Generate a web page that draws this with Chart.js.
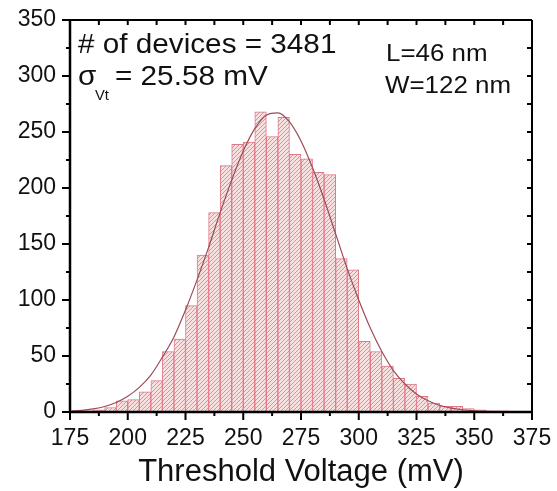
<!DOCTYPE html>
<html>
<head>
<meta charset="utf-8">
<script src="https://cdn.jsdelivr.net/npm/chart.js@4.4.0/dist/chart.umd.min.js"></script>
<style>
  html, body { margin: 0; padding: 0; background: #fff; }
</style>
</head>
<body>
<canvas id="chartVt" width="557" height="491"></canvas>
<script>
// histogram bins (5 mV wide), centre of each bin
const binCenters = [182.5, 187.5, 192.5, 197.5, 202.5, 207.5, 212.5, 217.5, 222.5, 227.5,
    232.5, 237.5, 242.5, 247.5, 252.5, 257.5, 262.5, 267.5, 272.5, 277.5,
    282.5, 287.5, 292.5, 297.5, 302.5, 307.5, 312.5, 317.5, 322.5, 327.5,
    332.5, 337.5, 342.5, 347.5, 352.5, 357.5, 362.5];
const binCounts = [1, 2, 4, 10, 11, 18, 28, 54, 65, 95,
    140, 178, 220, 239, 241, 268, 246, 263, 230, 226,
    214, 212, 137, 127, 63, 54, 41, 30, 25, 14,
    8, 5, 5, 3, 2, 1, 1];

// gaussian fit line
const fitX = [175, 180, 185, 190, 195, 200, 205, 210, 215, 220,
    225, 230, 235, 240, 245, 250, 255, 260, 265, 270,
    275, 280, 285, 290, 295, 300, 305, 310, 315, 320,
    325, 330, 335, 340, 345, 350, 355, 360, 365, 370];
const fitY = [0.8, 1.5, 2.8, 4.9, 8.5, 14, 22, 33, 49, 67,
    91, 118, 147, 178, 207, 233, 253, 265, 267, 259,
    242, 218, 190, 159, 128, 100, 75, 54, 37, 25,
    16, 10, 6, 3.5, 2, 1.1, 0.5, 0.3, 0.1, 0];

const xTicks = [175, 200, 225, 250, 275, 300, 325, 350, 375];
const yTicks = [0, 50, 100, 150, 200, 250, 300, 350];

const FONT = "'Liberation Sans', Arial, sans-serif";

function makeHatch() {
    const c = document.createElement("canvas");
    c.width = 4;
    c.height = 4;
    const g = c.getContext("2d");
    g.fillStyle = "#f6e0e0";
    g.fillRect(0, 0, 4, 4);
    g.strokeStyle = "rgba(140,100,100,0.65)";
    g.lineWidth = 0.8;
    g.beginPath();
    g.moveTo(0, 4); g.lineTo(4, 0);
    g.moveTo(-1, 1); g.lineTo(1, -1);
    g.moveTo(3, 5); g.lineTo(5, 3);
    g.stroke();
    return g.createPattern(c, "repeat");
}

// text drawn a little wider than the font, like the original
function wideText(ctx, str, x, y, size, sx) {
    ctx.save();
    ctx.font = size + "px " + FONT;
    ctx.translate(x, y);
    ctx.scale(sx, 1);
    ctx.fillText(str, 0, 0);
    ctx.restore();
}

// frame, tick marks and the text boxes
const framePlugin = {
    id: "frame",
    afterDraw(chart) {
        const ctx = chart.ctx;
        const a = chart.chartArea;
        const xs = chart.scales.x;
        const ys = chart.scales.y;
        ctx.save();
        ctx.strokeStyle = "#000";
        ctx.lineCap = "butt";

        ctx.lineWidth = 2;
        ctx.beginPath();
        ctx.moveTo(a.left, a.top); ctx.lineTo(a.right, a.top);
        ctx.moveTo(a.right, a.top); ctx.lineTo(a.right, a.bottom);
        ctx.stroke();
        ctx.lineWidth = 2.5;
        ctx.beginPath();
        ctx.moveTo(a.left, a.top - 1); ctx.lineTo(a.left, a.bottom);
        ctx.moveTo(a.left, a.bottom); ctx.lineTo(a.right + 1, a.bottom);
        ctx.stroke();

        ctx.lineWidth = 2;
        for (let v = 175; v <= 375; v += 12.5) {
            const px = xs.getPixelForValue(v);
            const major = (v - 175) % 25 === 0;
            ctx.beginPath();
            ctx.moveTo(px, a.bottom); ctx.lineTo(px, a.bottom + (major ? 8 : 4));
            ctx.moveTo(px, a.top); ctx.lineTo(px, a.top + 5);
            ctx.stroke();
        }
        for (let v = 0; v <= 350; v += 25) {
            const py = ys.getPixelForValue(v);
            const major = v % 50 === 0;
            ctx.beginPath();
            ctx.moveTo(a.left, py); ctx.lineTo(a.left - (major ? 8 : 4), py);
            ctx.moveTo(a.right, py); ctx.lineTo(a.right - 5, py);
            ctx.stroke();
        }

        ctx.fillStyle = "#111";
        ctx.textBaseline = "alphabetic";
        ctx.textAlign = "left";
        wideText(ctx, "# of devices = 3481", 78, 53, 27, 1.1);
        wideText(ctx, "\u03c3", 78, 85, 27, 1.1);
        wideText(ctx, "= 25.58 mV", 115, 85, 27, 1.1);
        wideText(ctx, "Vt", 95, 100, 14, 1.05);
        wideText(ctx, "L=46 nm", 386, 61, 24, 1.08);
        wideText(ctx, "W=122 nm", 385, 93, 24, 1.08);
        ctx.restore();
    }
};

new Chart(document.getElementById("chartVt"), {
    type: "bar",
    data: {
        datasets: [
            {
                type: "line",
                data: fitX.map((x, i) => ({ x: x, y: fitY[i] })),
                borderColor: "#a04a58",
                borderWidth: 1.2,
                pointRadius: 0,
                fill: false,
                cubicInterpolationMode: "monotone",
                order: 0,
            },
            {
                type: "bar",
                data: binCenters.map((x, i) => ({ x: x, y: binCounts[i] })),
                backgroundColor: makeHatch(),
                borderColor: "#e27886",
                borderWidth: 1,
                barPercentage: 1,
                categoryPercentage: 1,
                order: 1,
            },
        ],
    },
    options: {
        responsive: false,
        devicePixelRatio: 1,
        animation: false,
        layout: { padding: { top: 20, right: 25, left: 0, bottom: 0 } },
        plugins: {
            legend: { display: false },
            tooltip: { enabled: false },
        },
        scales: {
            x: {
                type: "linear",
                min: 175,
                max: 375,
                offset: false,
                afterBuildTicks: (s) => { s.ticks = xTicks.map((v) => ({ value: v })); },
                afterFit: (s) => { s.height = 79; },
                grid: { display: false },
                border: { display: false },
                ticks: { color: "#111", padding: 5, font: { family: FONT, size: 23 } },
                title: {
                    display: true,
                    text: "Threshold Voltage (mV)",
                    color: "#111",
                    font: { family: FONT, size: 31 },
                    padding: { top: 0, bottom: 0 },
                },
            },
            y: {
                min: 0,
                max: 350,
                afterBuildTicks: (s) => { s.ticks = yTicks.map((v) => ({ value: v })); },
                afterFit: (s) => { s.width = 70; },
                grid: { display: false },
                border: { display: false },
                ticks: { color: "#111", padding: 6, font: { family: FONT, size: 23 } },
            },
        },
    },
    plugins: [framePlugin],
});
</script>
</body>
</html>
